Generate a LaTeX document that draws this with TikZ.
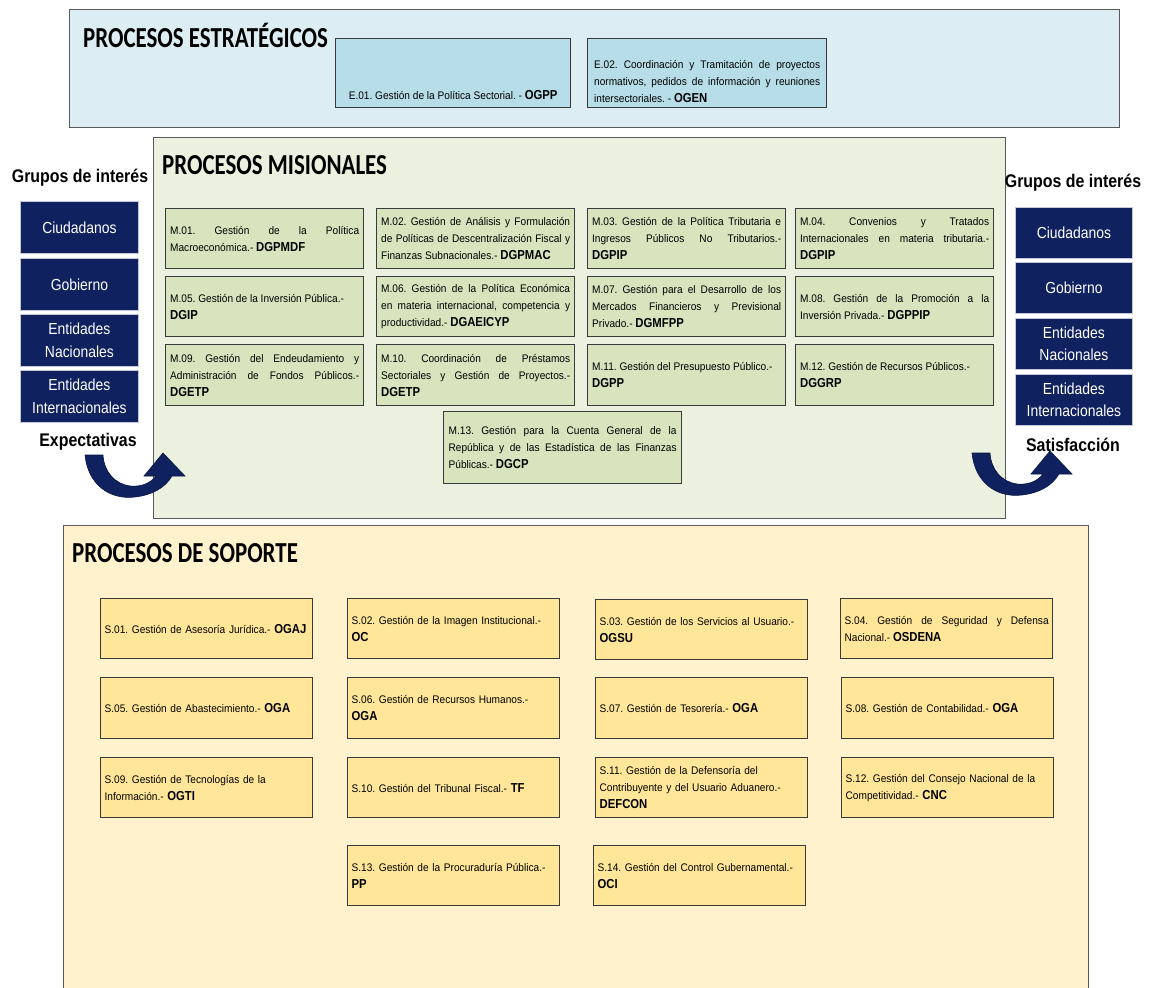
\documentclass[tikz,border=0pt]{standalone}
\usepackage{fontspec}
\setmainfont[FakeStretch=0.92]{Liberation Sans}
\newfontfamily\narrowsans[FakeStretch=0.87]{Liberation Sans}
\newfontfamily\headsans[FakeStretch=0.79]{Carlito}
\newcommand\orgname[1]{{\narrowsans\bfseries\fontsize{13}{17}\selectfont #1}}
\hyphenpenalty=10000 \exhyphenpenalty=10000 \tolerance=10000
\hbadness=10000 \hfuzz=30pt
\frenchspacing

\definecolor{panelline}{HTML}{595959}
\definecolor{boxline}{HTML}{3A3A3A}
\definecolor{estrbg}{HTML}{DCEEF4}
\definecolor{efill}{HTML}{B7DEE8}
\definecolor{misbg}{HTML}{EBF1DE}
\definecolor{mfill}{HTML}{D7E4BD}
\definecolor{sopbg}{HTML}{FFF2CC}
\definecolor{sfill}{HTML}{FFE699}
\definecolor{navy}{HTML}{10215F}
\definecolor{navydark}{HTML}{091640}

\tikzset{
  uturn/.pic={
    \filldraw[fill=navy, draw=navydark, line width=0.6pt]
      (85,455) .. controls (88,485) and (110,500) .. (135,497)
      .. controls (152,495) and (165,488) .. (172,476)
      -- (185,476) -- (163,453) -- (144,476) -- (156,476)
      .. controls (150,484) and (140,487) .. (130,486)
      .. controls (115,484) and (104,472) .. (103,455) -- cycle;
  }
}

\begin{document}
\begin{tikzpicture}[x=1pt,y=-1pt,
  panel/.style={draw=panelline, line width=1.4pt, anchor=north west, inner sep=0pt},
  head/.style={anchor=base west, inner sep=0pt, font=\headsans\bfseries\fontsize{29}{29}\selectfont},
  ebox/.style={draw=boxline, line width=1.3pt, fill=efill, anchor=north west, minimum height=69pt, font=\fontsize{11}{17}\selectfont},
  mbox/.style={draw=boxline, line width=1.3pt, fill=mfill, anchor=north west, minimum width=198pt, minimum height=60pt, inner xsep=4.5pt, text width=189pt, align=justify, font=\fontsize{11}{17}\selectfont},
  sbox/.style={draw=boxline, line width=1.3pt, fill=sfill, anchor=north west, minimum width=212pt, minimum height=60pt, inner xsep=4pt, text width=204pt, align=left, font=\fontsize{11}{17}\selectfont},
  gbox/.style={draw=white!75!navy, line width=0.8pt, fill=navy, anchor=north west, minimum width=118pt, minimum height=52pt, text=white, align=center, font=\narrowsans\fontsize{16}{22.5}\selectfont},
  glabel/.style={inner sep=0pt, font=\narrowsans\bfseries\fontsize{18.3}{20}\selectfont},
]
\useasboundingbox[fill=white] (0,0) rectangle (1149,988);

% ---------- panels ----------
\node[panel, fill=estrbg, minimum width=1050pt, minimum height=118pt] (estr) at (69,9) {};
\node[panel, fill=misbg, minimum width=852pt, minimum height=381pt] (mis) at (153,137) {};
\node[panel, fill=sopbg, minimum width=1025pt, minimum height=480pt] (sop) at (63,525) {};

\node[head] (tE) at (83,47) {PROCESOS ESTRATÉGICOS};
\node[head] (tM) at (162,174) {PROCESOS MISIONALES};
\node[head] (tS) at (72,562) {PROCESOS DE SOPORTE};

% ---------- strategic processes ----------
\node[ebox, minimum width=235pt, align=center] (e01) at (335,38)
  {\rule{0pt}{52pt}E.01. Gestión de la Política Sectorial. - \orgname{OGPP}};
\node[ebox, minimum width=239pt, inner xsep=6.5pt, text width=226pt, align=justify] (e02) at (587,38)
  {\rule{0pt}{25pt}E.02. Coordinación y Tramitación de proyectos\linebreak
   normativos, pedidos de información y reuniones\linebreak
   intersectoriales. - \orgname{OGEN}};

% ---------- mission processes ----------
\node[mbox] (m01) at (165,208) {M.01. Gestión de la Política\linebreak Macroeconómica.- \orgname{DGPMDF}};
\node[mbox] (m02) at (376,208) {M.02. Gestión de Análisis y Formulación\linebreak de Políticas de Descentralización Fiscal y\linebreak Finanzas Subnacionales.- \orgname{DGPMAC}};
\node[mbox] (m03) at (587,208) {M.03. Gestión de la Política Tributaria e\linebreak Ingresos Públicos No Tributarios.-\linebreak \orgname{DGPIP}};
\node[mbox] (m04) at (795,208) {M.04. Convenios y Tratados\linebreak Internacionales en materia tributaria.-\linebreak \orgname{DGPIP}};

\node[mbox] (m05) at (165,276) {M.05. Gestión de la Inversión Pública.-\\ \orgname{DGIP}};
\node[mbox] (m06) at (376,276) {M.06. Gestión de la Política Económica\linebreak en materia internacional, competencia y\linebreak productividad.- \orgname{DGAEICYP}};
\node[mbox] (m07) at (587,276) {M.07. Gestión para el Desarrollo de los\linebreak Mercados Financieros y Previsional\linebreak Privado.- \orgname{DGMFPP}};
\node[mbox] (m08) at (795,276) {M.08. Gestión de la Promoción a la\linebreak Inversión Privada.- \orgname{DGPPIP}};

\node[mbox, minimum height=61pt] (m09) at (165,344) {M.09. Gestión del Endeudamiento y\linebreak Administración de Fondos Públicos.-\linebreak \orgname{DGETP}};
\node[mbox, minimum height=61pt] (m10) at (376,344) {M.10. Coordinación de Préstamos\linebreak Sectoriales y Gestión de Proyectos.-\linebreak \orgname{DGETP}};
\node[mbox, minimum height=61pt] (m11) at (587,344) {M.11. Gestión del Presupuesto Público.-\\ \orgname{DGPP}};
\node[mbox, minimum height=61pt] (m12) at (795,344) {M.12. Gestión de Recursos Públicos.-\\ \orgname{DGGRP}};

\node[mbox, minimum width=238pt, text width=228pt, minimum height=72pt] (m13) at (443,411)
  {M.13. Gestión para la Cuenta General de la\linebreak República y de las Estadística de las Finanzas\linebreak Públicas.- \orgname{DGCP}};

% ---------- support processes ----------
\node[sbox] (s01) at (100,598) {S.01. Gestión de Asesoría Jurídica.-~\orgname{OGAJ}};
\node[sbox] (s02) at (347,598) {S.02. Gestión de la Imagen Institucional.-\\ \orgname{OC}};
\node[sbox] (s03) at (595,599) {S.03. Gestión de los Servicios al Usuario.-\\ \orgname{OGSU}};
\node[sbox, align=justify] (s04) at (840,598) {S.04. Gestión de Seguridad y Defensa\linebreak Nacional.- \orgname{OSDENA}};

\node[sbox, minimum height=61pt] (s05) at (100,677) {S.05. Gestión de Abastecimiento.- \orgname{OGA}};
\node[sbox, minimum height=61pt] (s06) at (347,677) {S.06. Gestión de Recursos Humanos.-\\ \orgname{OGA}};
\node[sbox, minimum height=61pt] (s07) at (595,677) {S.07. Gestión de Tesorería.- \orgname{OGA}};
\node[sbox, minimum height=61pt] (s08) at (841,677) {S.08. Gestión de Contabilidad.- \orgname{OGA}};

\node[sbox] (s09) at (100,757) {S.09. Gestión de Tecnologías de la\\ Información.- \orgname{OGTI}};
\node[sbox] (s10) at (347,757) {S.10. Gestión del Tribunal Fiscal.- \orgname{TF}};
\node[sbox] (s11) at (595,757) {S.11. Gestión de la Defensoría del\\ Contribuyente y del Usuario Aduanero.-\\ \orgname{DEFCON}};
\node[sbox] (s12) at (841,757) {S.12. Gestión del Consejo Nacional de la\\ Competitividad.- \orgname{CNC}};

\node[sbox] (s13) at (347,845) {S.13. Gestión de la Procuraduría Pública.-\\ \orgname{PP}};
\node[sbox] (s14) at (593,845) {S.14. Gestión del Control Gubernamental.-\\ \orgname{OCI}};

% ---------- stakeholder groups, left ----------
\node[glabel] (gl) at (80,178) {Grupos de interés};
\node[gbox] (gl1) at (20,201) {Ciudadanos};
\node[gbox] (gl2) at (20,258) {Gobierno};
\node[gbox] (gl3) at (20,314) {Entidades\\Nacionales};
\node[gbox] (gl4) at (20,370) {Entidades\\Internacionales};
\node[glabel] (exp) at (88,442) {Expectativas};

% ---------- stakeholder groups, right ----------
\node[glabel] (gr) at (1073,183) {Grupos de interés};
\node[gbox, minimum width=117pt, minimum height=51pt] (gr1) at (1015,207) {Ciudadanos};
\node[gbox, minimum width=117pt, minimum height=51pt] (gr2) at (1015,262) {Gobierno};
\node[gbox, minimum width=117pt, minimum height=51pt] (gr3) at (1015,318) {Entidades\\Nacionales};
\node[gbox, minimum width=117pt, minimum height=51pt] (gr4) at (1015,374) {Entidades\\Internacionales};
\node[glabel] (sat) at (1073,445) {Satisfacción};

% ---------- curved arrows ----------
\pic at (0,0) {uturn};
\pic at (887,-2) {uturn};
\end{tikzpicture}
\end{document}
